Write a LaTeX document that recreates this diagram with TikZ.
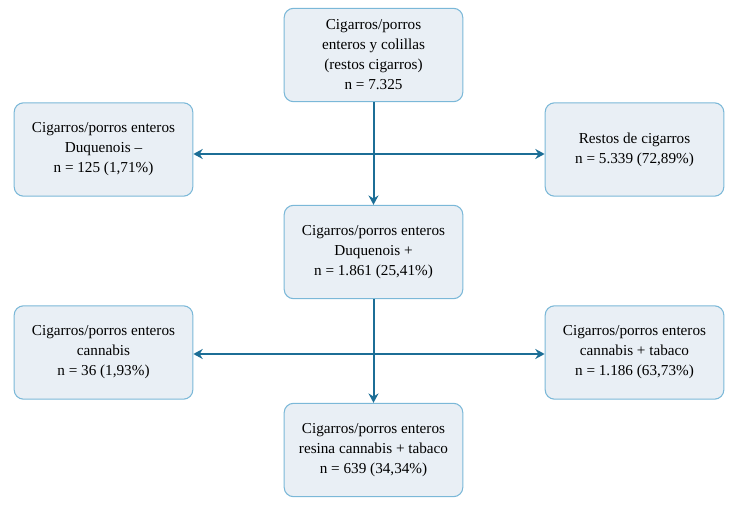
\documentclass[tikz,border=0pt]{standalone}
\usepackage{fontspec}
\setmainfont{Liberation Serif}
\usepackage{tikz}
\usetikzlibrary{arrows.meta}
\definecolor{boite}{HTML}{E9EFF5}
\definecolor{bord}{HTML}{7BB8D8}
\definecolor{fleche}{HTML}{1C6E96}
\begin{document}
\begin{tikzpicture}[x=0.75pt,y=-0.75pt,
    boite/.style={draw=bord,fill=boite,line width=0.8pt,rounded corners=7pt,
        minimum width=134pt,minimum height=70pt,inner sep=0pt,align=center,
        font=\fontsize{11.4}{15}\selectfont},
    fleche/.style={draw=fleche,line width=1.5pt,-{Stealth[length=7pt,width=7.5pt]}}]
            \useasboundingbox (0,0) rectangle (739,505);
            \node[boite] (tot) at (373.5,55) {Cigarros/porros\\enteros y colillas\\(restos cigarros)\\n = 7.325};
            \node[boite] (dqneg) at (103.5,149.5) {Cigarros/porros enteros\\Duquenois --\\n = 125 (1,71\%)};
            \node[boite] (restos) at (634.5,149.5) {Restos de cigarros\\n = 5.339 (72,89\%)};
            \node[boite] (dqpos) at (373.5,252) {Cigarros/porros enteros\\Duquenois +\\n = 1.861 (25,41\%)};
            \node[boite] (cann) at (103.5,352.5) {Cigarros/porros enteros\\cannabis\\n = 36 (1,93\%)};
            \node[boite] (canntab) at (634.5,352.5) {Cigarros/porros enteros\\cannabis + tabaco\\n = 1.186 (63,73\%)};
            \node[boite] (resina) at (373.5,450) {Cigarros/porros enteros\\resina cannabis + tabaco\\n = 639 (34,34\%)};

            \coordinate (h1) at (373,154);
            \coordinate (h2) at (373,354);
            \draw[fleche] (tot) -- (dqpos);
            \draw[fleche] (dqpos) -- (resina);
            \foreach \g/\d/\h in {dqneg/restos/h1,cann/canntab/h2} {
                \draw[fleche,{Stealth[length=7pt,width=7.5pt]}-{Stealth[length=7pt,width=7.5pt]}] (\g.east |- \h) -- (\d.west |- \h);
            }
        \end{tikzpicture}
\end{document}
